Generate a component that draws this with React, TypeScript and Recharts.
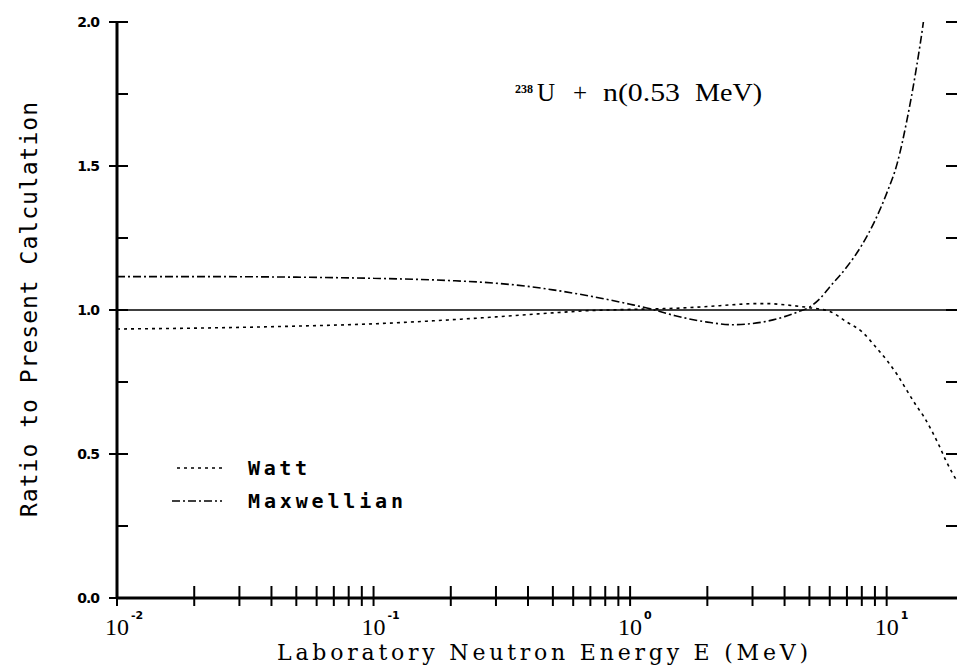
import { LineChart, Line, XAxis, YAxis, ReferenceLine, Legend } from 'recharts';

// energies in MeV, values are ratio to present calculation
const wattEnergy = [0.01, 0.02, 0.05, 0.1, 0.2, 0.3, 0.5, 0.7, 1, 1.5, 2, 2.5, 3, 3.5, 4, 5, 6, 7, 8, 9, 10, 11, 12, 13, 14, 15, 16, 17, 18, 20];
const wattRatio = [0.934, 0.937, 0.944, 0.952, 0.966, 0.976, 0.99, 0.998, 1.002, 1.006, 1.012, 1.018, 1.022, 1.022, 1.018, 1.008, 0.995, 0.958, 0.925, 0.875, 0.826, 0.775, 0.72, 0.67, 0.628, 0.58, 0.53, 0.478, 0.435, 0.37];

const maxwEnergy = [0.01, 0.02, 0.05, 0.1, 0.2, 0.3, 0.4, 0.5, 0.7, 1, 1.2, 1.5, 2, 2.5, 3, 3.5, 4, 4.5, 5, 5.5, 6, 7, 8, 9, 10, 11, 12, 13, 14, 15];
const maxwRatio = [1.116, 1.116, 1.114, 1.11, 1.102, 1.093, 1.082, 1.07, 1.048, 1.02, 1.004, 0.98, 0.958, 0.949, 0.953, 0.963, 0.977, 0.993, 1.01, 1.04, 1.08, 1.15, 1.225, 1.31, 1.405, 1.51, 1.66, 1.83, 2.02, 2.25];

const xDomain = [0.01, 18.8];
const xTicks = [0.01, 0.02, 0.03, 0.04, 0.05, 0.06, 0.07, 0.08, 0.09, 0.1, 0.2, 0.3, 0.4, 0.5, 0.6, 0.7, 0.8, 0.9, 1, 2, 3, 4, 5, 6, 7, 8, 9, 10];
const decadeExp: Record<number, string> = { 0.01: '-2', 0.1: '-1', 1: '0', 10: '1' };
const yTicks = [0, 0.25, 0.5, 0.75, 1, 1.25, 1.5, 1.75, 2];
const yLabels: Record<number, string> = { 0: '0.0', 0.5: '0.5', 1: '1.0', 1.5: '1.5', 2: '2.0' };

const seriesNames = ['Watt', 'Maxwellian'];
const seriesDash = ['3 4', '8 3 2 3'];

const wattData = wattEnergy.map((e, i) => ({ e, v: wattRatio[i] }));
const maxwData = maxwEnergy.map((e, i) => ({ e, v: maxwRatio[i] }));

const BottomTick = (props: any) => {
  const { x, y, payload } = props;
  const exp = decadeExp[payload.value];
  return (
    <g>
      <line x1={x} x2={x} y1={y - 12} y2={y + 8} stroke="#000" strokeWidth={2} />
      {exp !== undefined && (
        <g>
          <text x={x} y={y + 37} textAnchor="middle" fontFamily="Liberation Serif" fontSize={24} fill="#000">10</text>
          <text x={x + 14} y={y + 21} textAnchor="start" fontFamily="DejaVu Sans" fontWeight="bold" fontSize={11} fill="#000">{exp}</text>
        </g>
      )}
    </g>
  );
};

const TopTick = (props: any) => {
  const { x, y } = props;
  return <line x1={x} x2={x} y1={y} y2={y + 11} stroke="#000" strokeWidth={2} />;
};

const LeftTick = (props: any) => {
  const { x, y, payload } = props;
  const label = yLabels[payload.value];
  return (
    <g>
      <line x1={label ? x - 8 : x} x2={x + 11} y1={y} y2={y} stroke="#000" strokeWidth={2} />
      {label && (
        <text x={x - 18} y={y + 5} textAnchor="end" fontFamily="DejaVu Sans" fontWeight="bold" fontSize={14} letterSpacing={-1} fill="#000">{label}</text>
      )}
    </g>
  );
};

const RightTick = (props: any) => {
  const { x, y } = props;
  return <line x1={x - 11} x2={x} y1={y} y2={y} stroke="#000" strokeWidth={2} />;
};

const renderLegend = () => (
  <svg width={260} height={70}>
    <line x1={17} x2={63} y1={18} y2={18} stroke="#000" strokeWidth={1.5} strokeDasharray={seriesDash[0]} />
    <text x={88} y={25} fontFamily="DejaVu Sans Mono" fontWeight="bold" fontSize={20} textLength={59} lengthAdjust="spacing" fill="#000">{seriesNames[0]}</text>
    <line x1={12} x2={62} y1={51} y2={51} stroke="#000" strokeWidth={1.5} strokeDasharray={seriesDash[1]} />
    <text x={88} y={58} fontFamily="DejaVu Sans Mono" fontWeight="bold" fontSize={20} textLength={155} lengthAdjust="spacing" fill="#000">{seriesNames[1]}</text>
  </svg>
);

export default function App() {
  return (
    <div style={{ position: 'absolute', left: 0, top: 0, width: 957, height: 668, overflow: 'hidden', background: '#fff' }}>
      <LineChart width={958} height={668} margin={{ top: 22, right: 0, bottom: 40, left: 57 }}>
        <XAxis
          xAxisId="bottom"
          type="number"
          dataKey="e"
          scale="log"
          domain={xDomain}
          allowDataOverflow
          ticks={xTicks}
          interval={0}
          height={30}
          tickSize={0}
          tickMargin={0}
          tickLine={false}
          axisLine={{ stroke: '#000', strokeWidth: 3 }}
          tick={<BottomTick />}
        />
        <XAxis
          xAxisId="top"
          orientation="top"
          type="number"
          dataKey="e"
          scale="log"
          domain={xDomain}
          allowDataOverflow
          ticks={xTicks}
          interval={0}
          height={0}
          tickSize={0}
          tickMargin={0}
          tickLine={false}
          axisLine={{ stroke: '#000', strokeWidth: 3 }}
          tick={<TopTick />}
        />
        <YAxis
          yAxisId="left"
          type="number"
          domain={[0, 2]}
          allowDataOverflow
          ticks={yTicks}
          interval={0}
          width={60}
          tickSize={0}
          tickMargin={0}
          tickLine={false}
          axisLine={{ stroke: '#000', strokeWidth: 3 }}
          tick={<LeftTick />}
        />
        <YAxis
          yAxisId="right"
          orientation="right"
          type="number"
          domain={[0, 2]}
          allowDataOverflow
          ticks={yTicks}
          interval={0}
          width={1}
          tickSize={0}
          tickMargin={0}
          tickLine={false}
          axisLine={false}
          tick={<RightTick />}
        />
        <ReferenceLine xAxisId="bottom" yAxisId="left" y={1} stroke="#000" strokeWidth={1.5} />
        <Line
          xAxisId="bottom"
          yAxisId="left"
          data={wattData}
          dataKey="v"
          name={seriesNames[0]}
          type="monotone"
          stroke="#000"
          strokeWidth={1.6}
          strokeDasharray={seriesDash[0]}
          dot={false}
          activeDot={false}
          isAnimationActive={false}
        />
        <Line
          xAxisId="bottom"
          yAxisId="left"
          data={maxwData}
          dataKey="v"
          name={seriesNames[1]}
          type="monotone"
          stroke="#000"
          strokeWidth={1.6}
          strokeDasharray={seriesDash[1]}
          dot={false}
          activeDot={false}
          isAnimationActive={false}
        />
        <Legend
          layout="horizontal"
          verticalAlign="middle"
          align="center"
          content={renderLegend}
          wrapperStyle={{ position: 'absolute', left: 160, top: 450, width: 260, height: 70, margin: 0 }}
        />
        <text x={515} y={93} fontFamily="Liberation Serif" fontSize={12} fontWeight="bold" fill="#000">238</text>
        <text x={537} y={101} fontFamily="Liberation Serif" fontSize={25} fill="#000">U</text>
        <text x={573} y={101} fontFamily="Liberation Serif" fontSize={25} fill="#000">+</text>
        <text x={603} y={101} fontFamily="Liberation Serif" fontSize={25} textLength={77} lengthAdjust="spacingAndGlyphs" fill="#000">n(0.53</text>
        <text x={695} y={101} fontFamily="Liberation Serif" fontSize={25} textLength={67} lengthAdjust="spacingAndGlyphs" fill="#000">MeV)</text>
        <text x={277} y={660} fontFamily="DejaVu Serif" fontSize={22} textLength={531} lengthAdjust="spacing" fill="#000">Laboratory Neutron Energy E (MeV)</text>
        <text
          x={0}
          y={0}
          transform="translate(37 517) rotate(-90)"
          fontFamily="DejaVu Sans Mono"
          fontSize={23}
          textLength={415}
          lengthAdjust="spacing"
          fill="#000"
        >
          Ratio to Present Calculation
        </text>
      </LineChart>
    </div>
  );
}
